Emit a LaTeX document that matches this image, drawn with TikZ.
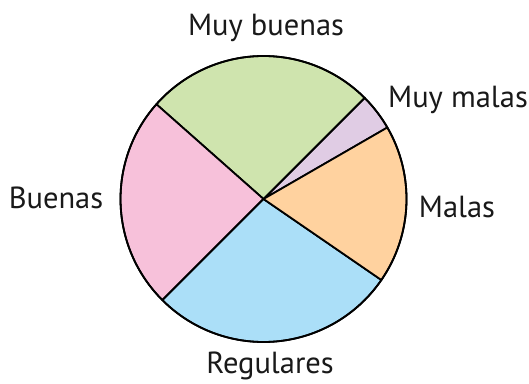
\documentclass[tikz,border=0pt]{standalone}
\usepackage{fontspec}
\setmainfont{PT Sans}
\usepackage{tikz}

\definecolor{muybuenas}{HTML}{CFE4AE}
\definecolor{buenas}{HTML}{F7C1DA}
\definecolor{regulares}{HTML}{ABDFF8}
\definecolor{malas}{HTML}{FFD29F}
\definecolor{muymalas}{HTML}{E0CCE4}

\tikzset{
  slice/.style={draw=black, line width=1.8pt, line join=round},
  label/.style={anchor=base, inner sep=0pt, font=\fontsize{30.5}{32}\selectfont, text=black!90}
}

\begin{document}
\begin{tikzpicture}[x=1pt, y=1pt]

    \useasboundingbox (0,0) rectangle (529,383);

    % Slices

    \coordinate (c) at (263.5,184);
    \foreach \a/\b/\col in {30/45/muymalas, 45/138.5/muybuenas, 138.5/225/buenas,
                            225/325.5/regulares, 325.5/390/malas} {
        \filldraw[slice, fill=\col] (c) -- ++(\a:143)
            arc[start angle=\a, end angle=\b, radius=143] -- cycle;
    }
    \draw[slice] (c) circle[radius=143];

    % Labels

    \node[label] (muybuenas) at (266,347) {Muy buenas}; %
    \node[label] (muymalas)  at (458,275) {Muy malas}; %
    \node[label] (buenas)    at (56,175)  {Buenas}; %
    \node[label] (malas)     at (457,166) {Malas}; %
    \node[label] (regulares) at (270,10)  {Regulares}; %

\end{tikzpicture}
\end{document}
